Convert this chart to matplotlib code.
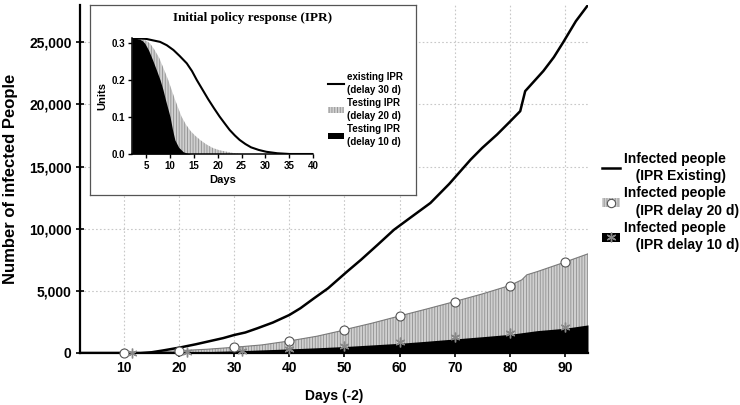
import matplotlib
matplotlib.use("Agg")
import matplotlib.pyplot as plt
from matplotlib.patches import Patch
from matplotlib.lines import Line2D
from matplotlib.ticker import FuncFormatter

plt.rcParams['font.family'] = ['Liberation Sans', 'DejaVu Sans']
plt.rcParams['hatch.linewidth'] = 0.6

# ---------------- main chart data ----------------
days_existing = [2, 10, 13, 15, 17, 20, 23, 25, 28, 30, 32, 34.2, 37, 40, 42, 44.5, 47, 50.5,
                 53, 56, 59, 62, 65.6, 69, 72.9, 75, 77.7, 80, 81.9, 82.8, 86.1, 88, 89.7, 92, 94.2]
infected_existing = [0, 0, 0, 60, 200, 430, 700, 900, 1200, 1450, 1650, 1990, 2450, 3060, 3600,
                     4410, 5200, 6560, 7500, 8700, 9920, 10900, 12070, 13600, 15560, 16500, 17580,
                     18600, 19460, 21070, 22690, 23800, 25000, 26700, 28000]

days_d20 = [2, 13, 15, 20, 25, 30, 35, 40, 45, 50, 51.1, 55, 60, 65, 70, 75, 80, 82.2, 83.1, 85, 90, 94.2]
infected_d20 = [0, 0, 50, 190, 300, 460, 650, 970, 1350, 1850, 1990, 2400, 2980, 3550, 4140,
                4750, 5430, 5890, 6290, 6550, 7310, 7980]

days_d10 = [2, 13, 15, 20, 25, 30, 35, 40, 45, 50, 55, 60, 65, 70, 75, 80, 85, 90, 94.2]
infected_d10 = [0, 0, 20, 60, 110, 170, 250, 330, 420, 520, 650, 780, 950, 1130, 1310, 1500,
                1800, 1990, 2260]

marker_days_d20 = [10, 20, 30, 40, 50, 60, 70, 80, 90]
marker_vals_d20 = [0, 190, 460, 970, 1850, 2980, 4140, 5430, 7310]
marker_days_d10 = [11.4, 21.4, 31.4, 40, 50, 60, 70, 80, 90]
marker_vals_d10 = [0, 50, 150, 300, 590, 910, 1260, 1610, 2070]

x_ticks = [10, 20, 30, 40, 50, 60, 70, 80, 90]
y_ticks = [0, 5000, 10000, 15000, 20000, 25000]

legend_main = ["Infected people\n   (IPR Existing)",
               "Infected people\n   (IPR delay 20 d)",
               "Infected people\n   (IPR delay 10 d)"]

# ---------------- inset data ----------------
inset_days_existing = [2, 5, 7.9, 9.3, 10.7, 12, 13.5, 14.6, 15.6, 16.8, 18, 19.2, 20.4, 21.5,
                       22.5, 23.6, 24.6, 25.8, 27, 28.6, 30.2, 32.5, 35.1, 40]
inset_units_existing = [0.314, 0.311, 0.303, 0.294, 0.281, 0.265, 0.245, 0.224, 0.200, 0.174,
                        0.148, 0.124, 0.101, 0.082, 0.065, 0.050, 0.038, 0.027, 0.018, 0.011,
                        0.006, 0.002, 0.0, 0.0]
inset_days_d20 = [2, 4, 5.0, 5.77, 6.7, 7.7, 8.6, 9.6, 10.3, 11.0, 11.7, 12.4, 13.3, 14.3, 15.3,
                  16.3, 17.6, 19, 20.4, 21.9, 23.5, 25, 40]
inset_units_d20 = [0.314, 0.311, 0.306, 0.299, 0.282, 0.26, 0.232, 0.200, 0.174, 0.148, 0.124,
                   0.101, 0.080, 0.062, 0.049, 0.038, 0.026, 0.016, 0.010, 0.006, 0.002, 0.0, 0.0]
inset_days_d10 = [2, 3.5, 4.2, 4.7, 5.5, 6.3, 7.1, 7.9, 8.5, 9.0, 9.5, 10.0, 10.5, 11.0, 11.8,
                  12.75, 13.6, 14.5, 40]
inset_units_d10 = [0.314, 0.311, 0.306, 0.299, 0.280, 0.255, 0.228, 0.200, 0.174, 0.148, 0.124,
                   0.100, 0.066, 0.038, 0.018, 0.006, 0.002, 0.0, 0.0]
inset_x_ticks = [5, 10, 15, 20, 25, 30, 35, 40]
inset_y_ticks = [0.0, 0.1, 0.2, 0.3]
legend_inset = ["existing IPR\n(delay 30 d)", "Testing IPR\n(delay 20 d)", "Testing IPR\n(delay 10 d)"]

W, H = 740, 405
fig = plt.figure(figsize=(W / 100, H / 100), dpi=100)


def fr(x0, y0, x1, y1):
    return [x0 / W, 1 - y1 / H, (x1 - x0) / W, (y1 - y0) / H]


GRAY_FACE = '#d0d0d0'
GRAY_HATCH = '#909090'

# ---------------- main axes ----------------
ax = fig.add_axes(fr(80, 5, 588, 353))
ax.fill_between(days_d20, infected_d20, 0, facecolor=GRAY_FACE, edgecolor=GRAY_HATCH,
                hatch='||||||', linewidth=0, zorder=2)
ax.plot(days_d20, infected_d20, color='#7a7a7a', lw=0.8, zorder=2.5)
ax.fill_between(days_d10, infected_d10, 0, facecolor='black', edgecolor='black',
                linewidth=0, zorder=3)
ax.plot(days_existing, infected_existing, color='black', lw=1.8, zorder=5)
ax.plot(marker_days_d20, marker_vals_d20, ls='none', marker='o', ms=6.5,
        mfc='white', mec='#555555', mew=0.8, zorder=6, clip_on=False)
ax.plot(marker_days_d10, marker_vals_d10, ls='none', marker=(6, 2, 0), ms=7,
        mec='#888888', mfc='#888888', mew=1.0, zorder=6, clip_on=False)

ax.set_xlim(2, 94.2)
ax.set_ylim(0, 28000)
ax.set_xticks(x_ticks)
ax.set_yticks(y_ticks)
ax.yaxis.set_major_formatter(FuncFormatter(lambda v, p: f"{int(v):,}"))
for s in ['top', 'right']:
    ax.spines[s].set_visible(False)
for s in ['left', 'bottom']:
    ax.spines[s].set_linewidth(1.6)
ax.tick_params(direction='inout', length=6, width=1.2, labelsize=10, pad=3)
for lab in ax.get_xticklabels() + ax.get_yticklabels():
    lab.set_fontweight('bold')
ax.grid(True, ls=(0, (1.5, 2)), color='#c8c8c8', lw=0.8, zorder=0)
ax.set_axisbelow(True)
ax.set_xlabel("Days (-2)", fontsize=10, fontweight='bold', labelpad=10)
ax.set_ylabel("Number of infected People", fontsize=12, fontweight='bold', labelpad=8)

h1 = Line2D([], [], color='black', lw=1.8)
h2 = (Patch(facecolor=GRAY_FACE, edgecolor=GRAY_HATCH, hatch='||||||', lw=0),
      Line2D([], [], ls='none', marker='o', ms=6, mfc='white', mec='#555555', mew=0.8))
h3 = (Patch(facecolor='black', edgecolor='black', lw=0),
      Line2D([], [], ls='none', marker=(6, 2, 0), ms=7, mec='#888888', mew=1.0))
leg = fig.legend([h1, h2, h3], legend_main, loc='upper left',
                 bbox_to_anchor=(596 / W, 1 - 146 / H), frameon=False,
                 prop={'size': 10, 'weight': 'bold'}, handlelength=1.3,
                 handletextpad=0.3, labelspacing=0.25, borderaxespad=0)
for t in leg.get_texts():
    t.set_linespacing(1.3)

# ---------------- inset ----------------
box = fig.add_axes(fr(90, 5, 416, 195))
box.set_xticks([])
box.set_yticks([])
box.set_facecolor('white')
for s in box.spines.values():
    s.set_color('#555555')
    s.set_linewidth(0.9)

fig.text(253 / W, 1 - 18 / H, "Initial policy response (IPR)", ha='center', va='center',
         fontsize=9.5, fontweight='bold', family=['Liberation Serif', 'DejaVu Serif'])

ins = fig.add_axes(fr(132, 38, 313, 154))
ins.patch.set_alpha(0)
ins.fill_between(inset_days_d20, inset_units_d20, 0, facecolor=GRAY_FACE, edgecolor=GRAY_HATCH,
                 hatch='||||||', linewidth=0, zorder=2)
ins.fill_between(inset_days_d10, inset_units_d10, 0, facecolor='black', edgecolor='black',
                 linewidth=0, zorder=3)
ins.plot(inset_days_existing, inset_units_existing, color='black', lw=1.5, zorder=4)
ins.set_xlim(2, 40)
ins.set_ylim(0, 0.3135)
ins.set_xticks(inset_x_ticks)
ins.set_yticks(inset_y_ticks)
ins.yaxis.set_major_formatter(FuncFormatter(lambda v, p: f"{v:.1f}"))
for s in ['top', 'right']:
    ins.spines[s].set_visible(False)
for s in ['left', 'bottom']:
    ins.spines[s].set_linewidth(1.1)
ins.tick_params(direction='out', length=3, width=1, labelsize=7, pad=2)
for lab in ins.get_xticklabels() + ins.get_yticklabels():
    lab.set_fontweight('bold')
ins.set_xlabel("Days", fontsize=8, fontweight='bold', labelpad=3)
ins.set_ylabel("Units", fontsize=8, fontweight='bold', labelpad=3)

ih1 = Line2D([], [], color='black', lw=1.5)
ih2 = Patch(facecolor=GRAY_FACE, edgecolor=GRAY_HATCH, hatch='||||||', lw=0)
ih3 = Patch(facecolor='black', edgecolor='black', lw=0)
ileg = fig.legend([ih1, ih2, ih3], legend_inset, loc='upper left',
                  bbox_to_anchor=(324 / W, 1 - 68 / H), frameon=False,
                  prop={'size': 7, 'weight': 'bold'}, handlelength=1.7, handleheight=0.5,
                  handletextpad=0.25, labelspacing=0.35, borderaxespad=0)
for t in ileg.get_texts():
    t.set_linespacing(1.35)

fig.savefig("out.png", dpi=100)
